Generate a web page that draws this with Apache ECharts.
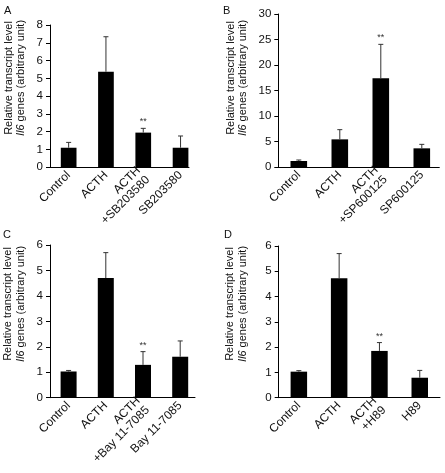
<!DOCTYPE html>
<html><head><meta charset="utf-8">
<script src="https://cdn.jsdelivr.net/npm/echarts@6/dist/echarts.min.js"></script>
<style>html,body{margin:0;padding:0;background:#fff}#c{width:445px;height:473px}</style>
</head><body><div id="c"></div>
<script>
// Panel A
const catsA = ['Control', 'ACTH', 'ACTH\n+SB203580', 'SB203580'];
const meanA = [1.1, 5.37, 1.95, 1.1];
const errTopA = [1.4, 7.34, 2.19, 1.76];
const starsA = ['', '', '**', ''];
const yTicksA = [0, 8, 1];
// Panel B
const catsB = ['Control', 'ACTH', 'ACTH\n+SP600125', 'SP600125'];
const meanB = [1.18, 5.42, 17.4, 3.66];
const errTopB = [1.37, 7.32, 24.05, 4.44];
const starsB = ['', '', '**', ''];
const yTicksB = [0, 30, 5];
// Panel C
const catsC = ['Control', 'ACTH', 'ACTH\n+Bay 11-7085', 'Bay 11-7085'];
const meanC = [1.03, 4.7, 1.29, 1.61];
const errTopC = [1.07, 5.7, 1.81, 2.23];
const starsC = ['', '', '**', ''];
const yTicksC = [0, 6, 1];
// Panel D
const catsD = ['Control', 'ACTH', 'ACTH\n+H89', 'H89'];
const meanD = [1.03, 4.72, 1.85, 0.79];
const errTopD = [1.07, 5.7, 2.18, 1.08];
const starsD = ['', '', '**', ''];
const yTicksD = [0, 6, 1];

const panelLetters = ['A', 'B', 'C', 'D'];
const titleLine1 = 'Relative transcript level';
const titleLine2 = '{i|Il6} genes (arbitrary unit)';

const FONT = 'Liberation Sans, Arial, sans-serif';
const NARROW = '"Liberation Sans Narrow", "Arial Narrow", sans-serif';
const panels = [
  {cats: catsA, mean: meanA, top: errTopA, stars: starsA, y: yTicksA,
   left: 50, topPx: 25, height: 142.3, band: 37.3, lineW: 139, barW: 15.7,
   lx: 4, ly: 11, t1x: 8.5, t2x: 21, ty: 78},
  {cats: catsB, mean: meanB, top: errTopB, stars: starsB, y: yTicksB,
   left: 278.3, topPx: 14, height: 153, band: 41, lineW: 161, barW: 16.6,
   lx: 223, ly: 11, t1x: 230.5, t2x: 243, ty: 78},
  {cats: catsC, mean: meanC, top: errTopC, stars: starsC, y: yTicksC,
   left: 50, topPx: 245, height: 152.7, band: 37.2, lineW: 145, barW: 16,
   lx: 3, ly: 235, t1x: 8, t2x: 20.5, ty: 304},
  {cats: catsD, mean: meanD, top: errTopD, stars: starsD, y: yTicksD,
   left: 278.7, topPx: 246, height: 151.7, band: 40.3, lineW: 161.3, barW: 16.5,
   lx: 224, ly: 235, t1x: 230, t2x: 243, ty: 304}
];

const grid = [], xAxis = [], yAxis = [], series = [], graphic = [];
panels.forEach(function (p, k) {
  const gi = grid.length;
  grid.push({left: p.left, top: p.topPx, width: p.band * 4, height: p.height});
  grid.push({left: p.left, top: p.topPx, width: p.lineW, height: p.height});
  xAxis.push({
    type: 'category', gridIndex: gi, data: p.cats,
    axisLine: {show: false}, axisTick: {show: false},
    axisLabel: {interval: 0, rotate: 45, margin: 6, fontSize: 12, color: '#111', fontFamily: FONT, lineHeight: 13}
  });
  xAxis.push({
    type: 'value', gridIndex: gi + 1, min: 0, max: 1,
    axisLine: {show: true, lineStyle: {color: '#000', width: 1}},
    axisTick: {show: false}, axisLabel: {show: false}, splitLine: {show: false}
  });
  yAxis.push({
    type: 'value', gridIndex: gi, min: p.y[0], max: p.y[1], interval: p.y[2],
    axisLine: {show: true, lineStyle: {color: '#000', width: 1}},
    axisTick: {show: true, length: 4, lineStyle: {color: '#000'}},
    axisLabel: {fontSize: 11.5, color: '#111', margin: 7, fontFamily: FONT},
    splitLine: {show: false}
  });
  yAxis.push({type: 'value', gridIndex: gi + 1, show: false, min: 0, max: 1});
  series.push({
    type: 'bar', xAxisIndex: gi, yAxisIndex: gi, data: p.mean, barWidth: p.barW,
    itemStyle: {color: '#000'}, silent: true, animation: false
  });
  const stars = p.stars;
  series.push({
    type: 'custom', xAxisIndex: gi, yAxisIndex: gi, animation: false, silent: true, z: 5,
    data: p.mean.map(function (m, i) { return [i, p.top[i], m]; }),
    renderItem: function (params, api) {
      const i = api.value(0), t = api.value(1), m = api.value(2);
      const a = api.coord([i, m]), b = api.coord([i, t]);
      const ch = [
        {type: 'line', shape: {x1: a[0], y1: a[1], x2: b[0], y2: b[1]}, style: {stroke: '#333', lineWidth: 1}},
        {type: 'line', shape: {x1: b[0] - 2.5, y1: b[1], x2: b[0] + 2.5, y2: b[1]}, style: {stroke: '#333', lineWidth: 1}}
      ];
      if (stars[i]) {
        ch.push({type: 'text', style: {text: stars[i], x: b[0], y: b[1] - 2, align: 'center', verticalAlign: 'bottom',
          font: '9px ' + FONT, fill: '#333'}});
      }
      return {type: 'group', children: ch};
    }
  });
  graphic.push({type: 'text', x: p.lx, y: p.ly, style: {text: panelLetters[k], font: '11px ' + FONT, fill: '#111', align: 'left', verticalAlign: 'middle'}});
  graphic.push({type: 'text', x: p.t1x, y: p.ty, rotation: Math.PI / 2,
    style: {text: titleLine1, font: '11px ' + NARROW, fill: '#111', align: 'center', verticalAlign: 'middle'}});
  graphic.push({type: 'text', x: p.t2x, y: p.ty, rotation: Math.PI / 2,
    style: {text: titleLine2, font: '11px ' + NARROW, fill: '#111', align: 'center', verticalAlign: 'middle',
      rich: {i: {fontStyle: 'italic', fontSize: 11, fontFamily: NARROW, fill: '#111'}}}});
});

const chart = echarts.init(document.getElementById('c'), null, {renderer: 'canvas'});
chart.setOption({backgroundColor: '#fff', animation: false, grid: grid, xAxis: xAxis, yAxis: yAxis, series: series, graphic: graphic});
</script></body></html>
